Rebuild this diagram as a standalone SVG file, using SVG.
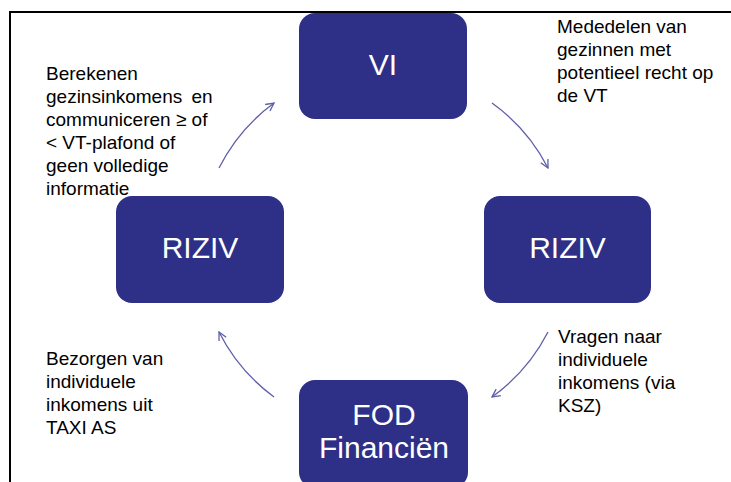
<svg xmlns="http://www.w3.org/2000/svg" width="731" height="482" viewBox="0 0 731 482">
<style>
.node{fill:#2E3087;}
.nt{font-family:"Liberation Sans",Arial,sans-serif;font-size:30px;fill:#ffffff;text-anchor:middle;}
.lbl{font-family:"Liberation Sans",Arial,sans-serif;font-size:19px;fill:#000000;}
.arc{fill:none;stroke:#5f5fa8;stroke-width:1.3;marker-end:url(#ah);}
</style>
<defs>
<marker id="ah" viewBox="0 0 10 10" refX="9" refY="5" markerWidth="10" markerHeight="10" markerUnits="userSpaceOnUse" orient="auto">
<path d="M1,1 L9,5 L1,9" fill="none" stroke="#5f5fa8" stroke-width="1.3"/>
</marker>
</defs>
<rect x="0" y="0" width="731" height="482" fill="#ffffff"/>
<g id="frame">
<line x1="9" y1="12" x2="731" y2="12" stroke="#000" stroke-width="2"/>
<line x1="10" y1="12" x2="10" y2="482" stroke="#000" stroke-width="2"/>
</g>
<g id="connectors">
<path class="arc" d="M492,103 A183,183 0 0 1 548,168"/>
<path class="arc" d="M548,332 A183,183 0 0 1 492,397"/>
<path class="arc" d="M274,397 A183,183 0 0 1 219,332"/>
<path class="arc" d="M219,168 A183,183 0 0 1 274,103"/>
</g>
<g id="node-vi">
<rect class="node" x="299" y="13" width="168" height="106" rx="16"/>
<text class="nt" x="383" y="75">VI</text>
</g>
<g id="node-riziv-right">
<rect class="node" x="484" y="196" width="167" height="107" rx="16"/>
<text class="nt" x="567.5" y="258">RIZIV</text>
</g>
<g id="node-riziv-left">
<rect class="node" x="116" y="196" width="168" height="107" rx="16"/>
<text class="nt" x="200" y="258">RIZIV</text>
</g>
<g id="node-fod">
<rect class="node" x="299" y="380" width="169" height="108" rx="16"/>
<text class="nt" x="384" y="425">FOD</text>
<text class="nt" x="384" y="458">Financiën</text>
</g>
<g id="label-top-right">
<text class="lbl" x="557" y="33">Mededelen van</text>
<text class="lbl" x="557" y="56">gezinnen met</text>
<text class="lbl" x="557" y="79">potentieel recht op</text>
<text class="lbl" x="557" y="102">de VT</text>
</g>
<g id="label-top-left">
<text class="lbl" x="46" y="80">Berekenen</text>
<text class="lbl" x="46" y="103" word-spacing="4">gezinsinkomens en</text>
<text class="lbl" x="46" y="126">communiceren ≥ of</text>
<text class="lbl" x="46" y="149">&lt; VT-plafond of</text>
<text class="lbl" x="46" y="172">geen volledige</text>
<text class="lbl" x="46" y="195">informatie</text>
</g>
<g id="label-bottom-right">
<text class="lbl" x="558" y="343">Vragen naar</text>
<text class="lbl" x="558" y="366">individuele</text>
<text class="lbl" x="558" y="389">inkomens (via</text>
<text class="lbl" x="558" y="412">KSZ)</text>
</g>
<g id="label-bottom-left">
<text class="lbl" x="46" y="365">Bezorgen van</text>
<text class="lbl" x="46" y="388">individuele</text>
<text class="lbl" x="46" y="411">inkomens uit</text>
<text class="lbl" x="46" y="434">TAXI AS</text>
</g>
</svg>
